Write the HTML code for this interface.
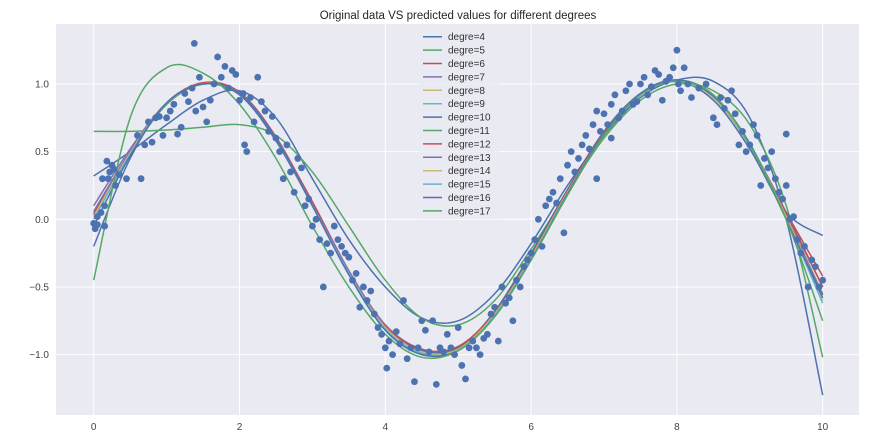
<!DOCTYPE html>
<html><head><meta charset="utf-8"><style>
body{margin:0;background:#fff;}
svg{display:block;font-family:"Liberation Sans","DejaVu Sans",sans-serif;}
</style></head><body>
<svg id="chart" width="875" height="437" viewBox="0 0 875 437" xmlns="http://www.w3.org/2000/svg">
<text x="458" y="19" text-anchor="middle" font-size="11.5" fill="#262626">Original data VS predicted values for different degrees</text>
<rect x="56" y="24" width="803" height="391" fill="#eaeaf2"/>
<g id="grid"></g>
<g id="ticks"></g>
<g id="curves"></g>
<g id="points"></g>
<g id="legend"></g>
</svg>
<script>
const xTicks=[0,2,4,6,8,10];
const yTicks=[1.0,0.5,0.0,-0.5,-1.0];
const yTickLabels=["1.0","0.5","0.0","\u22120.5","\u22121.0"];
const ptX=[0,0.02,0.05,0.1,0.15,0.12,0.18,0.2,0.22,0.25,0.28,0.3,0.35,0.45,0.05,0.15,0.6,0.65,0.7,0.75,0.8,0.85,0.9,0.95,1.0,1.05,1.1,1.15,1.2,1.25,1.3,1.35,1.38,1.4,1.45,1.5,1.55,1.6,1.65,1.7,1.75,1.8,1.85,1.9,1.95,2.0,2.05,2.07,2.1,2.15,2.2,2.25,2.3,2.35,2.4,2.45,2.5,2.55,2.6,2.65,2.7,2.75,2.8,2.85,2.9,2.95,3.0,3.05,3.1,3.15,3.2,3.25,3.3,3.35,3.4,3.45,3.5,3.55,3.6,3.65,3.7,3.75,3.8,3.85,3.9,3.95,4.0,4.02,4.05,4.1,4.15,4.2,4.25,4.3,4.35,4.4,4.45,4.5,4.55,4.6,4.65,4.7,4.75,4.8,4.85,4.9,4.95,5.0,5.05,5.1,5.15,5.2,5.25,5.3,5.35,5.4,5.45,5.5,5.55,5.6,5.65,5.7,5.75,5.8,5.85,5.9,5.95,6.0,6.05,6.1,6.15,6.2,6.25,6.3,6.35,6.4,6.45,6.5,6.55,6.6,6.65,6.7,6.75,6.8,6.85,6.9,6.95,7.0,7.05,7.1,7.15,7.2,7.25,7.3,7.35,7.4,7.45,7.5,7.55,7.6,7.65,7.7,7.75,7.8,7.85,7.9,7.95,8.0,8.02,8.05,8.1,8.15,8.2,8.3,8.4,8.5,8.55,8.6,8.65,8.7,8.75,8.8,8.85,8.9,8.95,9.0,9.05,9.1,9.15,9.2,9.25,9.3,9.35,9.4,9.45,9.5,9.55,9.6,9.65,9.7,9.75,9.8,9.85,9.9,9.95,10.0,9.5,7.1,6.9];
const ptY=[-0.03,-0.07,0.02,0.05,0.1,0.3,0.43,0.3,0.35,0.4,0.37,0.25,0.33,0.3,-0.04,-0.05,0.62,0.3,0.55,0.72,0.57,0.75,0.76,0.62,0.75,0.8,0.85,0.63,0.68,0.93,0.87,0.97,1.3,0.8,1.05,0.83,0.72,0.88,1.0,1.2,1.05,1.13,0.97,1.1,1.07,0.88,0.93,0.55,0.5,0.9,0.72,1.05,0.87,0.8,0.65,0.76,0.6,0.5,0.3,0.55,0.35,0.2,0.45,0.38,0.1,0.15,-0.05,0.0,-0.15,-0.5,-0.18,-0.25,-0.05,-0.15,-0.2,-0.25,-0.28,-0.45,-0.4,-0.65,-0.5,-0.6,-0.53,-0.7,-0.8,-0.85,-0.95,-1.1,-0.9,-1.0,-0.83,-0.92,-0.6,-1.03,-0.95,-1.2,-0.95,-0.75,-0.82,-0.98,-0.75,-1.22,-0.95,-0.98,-0.85,-0.95,-1.0,-0.8,-1.08,-1.18,-0.95,-0.9,-0.95,-1.0,-0.88,-0.85,-0.7,-0.65,-0.9,-0.5,-0.62,-0.58,-0.75,-0.45,-0.5,-0.35,-0.3,-0.25,-0.15,0.0,-0.2,0.1,0.15,0.2,0.12,0.3,-0.1,0.4,0.5,0.35,0.45,0.55,0.62,0.52,0.7,0.8,0.65,0.78,0.7,0.85,0.92,0.75,0.8,0.95,1.0,0.85,0.87,1.0,1.05,0.92,0.98,1.1,1.07,0.88,1.02,1.05,1.12,1.25,1.0,0.95,1.12,1.0,0.9,0.97,1.0,0.75,0.7,0.9,0.82,0.88,0.95,0.78,0.55,0.65,0.5,0.55,0.7,0.62,0.25,0.45,0.38,0.5,0.3,0.2,0.15,0.25,0.0,0.02,-0.15,-0.25,-0.2,-0.5,-0.3,-0.35,-0.5,-0.45,0.63,0.6,0.3];
const curveX=[0,0.5,1,1.5,2,2.5,3,3.5,4,4.5,5,5.5,6,6.5,7,7.5,8,8.5,9,9.5,10];
const deg4=[0.32,0.5,0.7,0.88,0.95,0.75,0.3,-0.15,-0.5,-0.73,-0.75,-0.55,-0.18,0.25,0.62,0.9,1.03,1.02,0.75,0.0,-1.3];
const deg5=[0.65,0.65,0.66,0.68,0.7,0.62,0.35,-0.05,-0.45,-0.73,-0.78,-0.6,-0.22,0.2,0.6,0.88,1.0,0.95,0.7,0.1,-1.02];
const deg6=[0.05,0.5,0.85,1.0,0.93,0.6,0.13,-0.38,-0.78,-0.96,-0.95,-0.7,-0.28,0.2,0.63,0.92,1.02,0.9,0.55,0.05,-0.42];
const deg7=[0.1,0.52,0.86,1.0,0.92,0.6,0.12,-0.38,-0.78,-0.96,-0.95,-0.7,-0.28,0.2,0.63,0.92,1.02,0.9,0.55,0.05,-0.5];
const deg8=[0.05,0.5,0.86,1.0,0.93,0.6,0.11,-0.39,-0.79,-0.97,-0.95,-0.7,-0.28,0.2,0.63,0.92,1.02,0.9,0.55,0.03,-0.55];
const deg9=[0.03,0.49,0.86,1.0,0.93,0.6,0.11,-0.39,-0.79,-0.97,-0.96,-0.7,-0.28,0.2,0.64,0.93,1.02,0.9,0.54,0.02,-0.58];
const deg10=[-0.2,0.45,0.86,1.0,0.92,0.58,0.1,-0.4,-0.8,-0.97,-0.95,-0.68,-0.25,0.22,0.65,0.93,1.02,0.88,0.52,0.05,-0.12];
const deg11=[0.0,0.48,0.85,1.0,0.93,0.6,0.1,-0.4,-0.8,-0.99,-0.97,-0.72,-0.3,0.18,0.62,0.92,1.03,0.92,0.55,0.0,-0.55];
const deg12=[0.04,0.5,0.86,1.01,0.94,0.61,0.12,-0.39,-0.79,-0.96,-0.94,-0.69,-0.27,0.21,0.64,0.93,1.02,0.9,0.55,0.04,-0.5];
const deg13=[0.06,0.5,0.86,1.0,0.93,0.6,0.11,-0.39,-0.8,-0.98,-0.96,-0.71,-0.29,0.19,0.63,0.92,1.02,0.91,0.55,0.02,-0.56];
const deg14=[0.02,0.49,0.86,1.0,0.93,0.6,0.1,-0.4,-0.8,-0.98,-0.96,-0.7,-0.28,0.2,0.63,0.93,1.02,0.9,0.55,0.02,-0.6];
const deg15=[0.0,0.48,0.86,1.0,0.93,0.6,0.1,-0.4,-0.81,-0.99,-0.97,-0.71,-0.29,0.19,0.63,0.93,1.02,0.91,0.56,0.0,-0.62];
const deg16=[-0.05,0.47,0.86,1.0,0.93,0.6,0.1,-0.41,-0.82,-1.0,-0.97,-0.72,-0.3,0.19,0.63,0.93,1.03,0.91,0.56,0.0,-0.58];
const deg17=[-0.45,0.75,1.12,1.08,0.85,0.45,-0.05,-0.5,-0.85,-1.02,-0.97,-0.72,-0.3,0.18,0.62,0.92,1.02,0.92,0.55,0.0,-0.75];
const seriesNames=["degre=4","degre=5","degre=6","degre=7","degre=8","degre=9","degre=10","degre=11","degre=12","degre=13","degre=14","degre=15","degre=16","degre=17"];
const series=[deg4,deg5,deg6,deg7,deg8,deg9,deg10,deg11,deg12,deg13,deg14,deg15,deg16,deg17];
const palette=["#4c72b0","#55a868","#c44e52","#8172b2","#ccb974","#64b5cd"];

const NS="http://www.w3.org/2000/svg";
const sx=v=>93.7+v*72.9;
const sy=v=>219.3-v*135.3;
function mk(tag,attrs,parent){const e=document.createElementNS(NS,tag);for(const k in attrs)e.setAttribute(k,attrs[k]);parent.appendChild(e);return e;}
const grid=document.getElementById('grid'),ticks=document.getElementById('ticks');
xTicks.forEach(t=>{
  const l=mk('line',{x1:sx(t),x2:sx(t),y1:24,y2:415,stroke:'#fff','stroke-width':1},grid);
  
  
  const tx=mk('text',{x:sx(t),y:430,'text-anchor':'middle','font-size':10,fill:'#444'},ticks);
  tx.textContent=String(t);
  
  
});
yTicks.forEach((t,i)=>{
  const l=mk('line',{x1:56,x2:859,y1:sy(t),y2:sy(t),stroke:'#fff','stroke-width':1},grid);
  
  
  const tx=mk('text',{x:49,y:sy(t)+3.5,'text-anchor':'end','font-size':10,fill:'#444'},ticks);
  tx.textContent=yTickLabels[i];
  
  
});
function smooth(xs,ys){
  const p=xs.map((x,i)=>[sx(x),sy(ys[i])]);
  let d='M'+p[0][0]+','+p[0][1];
  for(let i=0;i<p.length-1;i++){
    const p0=p[Math.max(0,i-1)],p1=p[i],p2=p[i+1],p3=p[Math.min(p.length-1,i+2)];
    const c1=[p1[0]+(p2[0]-p0[0])/6,p1[1]+(p2[1]-p0[1])/6];
    const c2=[p2[0]-(p3[0]-p1[0])/6,p2[1]-(p3[1]-p1[1])/6];
    d+=' C'+c1[0]+','+c1[1]+' '+c2[0]+','+c2[1]+' '+p2[0]+','+p2[1];
  }
  return d;
}
const curves=document.getElementById('curves'),pts=document.getElementById('points'),leg=document.getElementById('legend');
series.forEach((s,i)=>{
  const path=mk('path',{d:smooth(curveX,s),fill:'none',stroke:palette[i%6],'stroke-width':1.5},curves);
  
  
});
ptX.forEach((x,i)=>{
  const c=mk('circle',{cx:sx(x),cy:sy(ptY[i]),r:3.4,fill:'#4c72b0'},pts);
  
  
});
const lb=mk('rect',{x:418,y:29,width:82,height:190,fill:'#eaeaf2',opacity:0.8},leg);


seriesNames.forEach((n,i)=>{
  const y=36.7+i*13.4;
  const g=mk('g',{},leg);
  
  
  mk('line',{x1:423,x2:442,y1:y,y2:y,stroke:palette[i%6],'stroke-width':1.5},g);
  const t=mk('text',{x:448,y:y+3.5,'font-size':10,fill:'#333'},g);
  t.textContent=n;
});
</script>
</body></html>
